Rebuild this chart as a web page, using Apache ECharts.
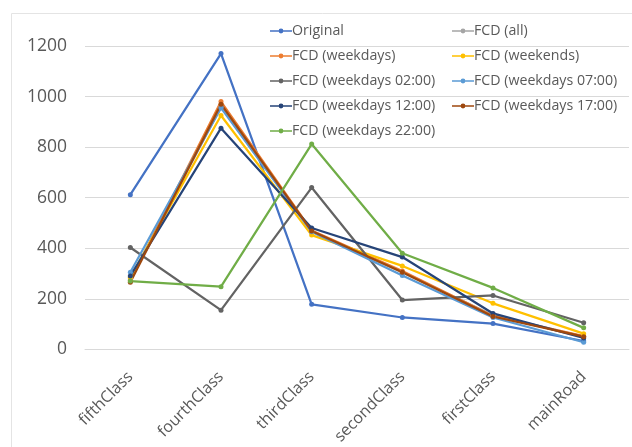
<!DOCTYPE html>
<html>
<head>
<meta charset="utf-8">
<script src="https://cdn.jsdelivr.net/npm/echarts@6/dist/echarts.min.js"></script>
<style>html,body{margin:0;padding:0;background:#fff}#c{width:632px;height:447px}</style>
</head>
<body>
<div id="c"></div>
<script>
const categories = ['fifthClass','fourthClass','thirdClass','secondClass','firstClass','mainRoad'];
const original   = [612, 1170, 178, 126, 102, 33];
const fcdAll     = [278, 960, 465, 305, 135, 50];
const weekdays   = [272, 980, 470, 310, 132, 52];
const weekends   = [285, 925, 452, 330, 182, 62];
const wd0200     = [403, 155, 640, 195, 213, 105];
const wd0700     = [305, 955, 465, 292, 126, 28];
const wd1200     = [290, 875, 480, 365, 142, 45];
const wd1700     = [265, 970, 468, 305, 130, 50];
const wd2200     = [270, 248, 812, 380, 243, 85];
const yTicks = [0, 200, 400, 600, 800, 1000, 1200];

const seriesDefs = [
  ['Original', original, '#4472C4'],
  ['FCD (all)', fcdAll, '#A5A5A5'],
  ['FCD (weekdays)', weekdays, '#ED7D31'],
  ['FCD (weekends)', weekends, '#FFC000'],
  ['FCD (weekdays 02:00)', wd0200, '#636363'],
  ['FCD (weekdays 07:00)', wd0700, '#5B9BD5'],
  ['FCD (weekdays 12:00)', wd1200, '#264478'],
  ['FCD (weekdays 17:00)', wd1700, '#9E480E'],
  ['FCD (weekdays 22:00)', wd2200, '#70AD47']
];

const chart = echarts.init(document.getElementById('c'), null, {renderer: 'canvas'});
const font = 'Open Sans, sans-serif';
const legendIcon = 'path://M0,2 L8.8,2 L8.8,3.6 L0,3.6 Z M13.2,2 L22,2 L22,3.6 L13.2,3.6 Z M8.6,2.8 A2.4,2.4 0 1,1 13.4,2.8 A2.4,2.4 0 1,1 8.6,2.8 Z';
const legendCommon = {
  orient: 'vertical', top: 19, itemWidth: 22, itemHeight: 14, itemGap: 11,
  icon: legendIcon, symbolKeepAspect: true,
  textStyle: {fontFamily: font, fontSize: 14.2, color: '#595959', padding: [0,0,0,-5]},
  selectedMode: false
};
chart.setOption({
  animation: false,
  backgroundColor: '#fff',
  color: seriesDefs.map(s => s[2]),
  graphic: [{type: 'rect', shape: {x: 11.5, y: 13.5, width: 640, height: 460}, style: {fill: 'none', stroke: '#e4e4e4', lineWidth: 1}, silent: true}],
  legend: [
    Object.assign({left: 265, data: [0,2,4,6,8].map(i => seriesDefs[i][0])}, legendCommon),
    Object.assign({left: 447, data: [1,3,5,7].map(i => seriesDefs[i][0])}, legendCommon)
  ],
  grid: {left: 85, right: 3, top: 46, bottom: 96, containLabel: false},
  xAxis: {
    type: 'category', data: categories, boundaryGap: true,
    axisLine: {lineStyle: {color: '#D9D9D9', width: 1}},
    axisTick: {show: false},
    axisLabel: {rotate: 45, fontFamily: font, fontSize: 16, color: '#595959', margin: 25, interval: 0}
  },
  yAxis: {
    type: 'value', min: yTicks[0], max: yTicks[yTicks.length-1], interval: 200,
    axisLine: {show: false}, axisTick: {show: false},
    axisLabel: {fontFamily: font, fontSize: 17.5, color: '#595959', margin: 18, formatter: v => String(v)},
    splitLine: {lineStyle: {color: '#D9D9D9', width: 1}}
  },
  series: seriesDefs.map(s => ({
    name: s[0], type: 'line', data: s[1],
    symbol: 'circle', symbolSize: 5,
    lineStyle: {width: 2.25, color: s[2]},
    itemStyle: {color: s[2]}
  }))
});
</script>
</body>
</html>
